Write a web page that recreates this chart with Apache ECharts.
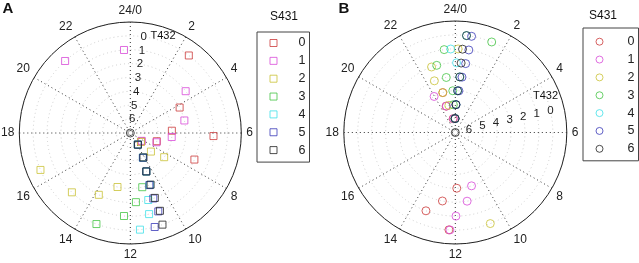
<!DOCTYPE html>
<html><head><meta charset="utf-8">
<script src="https://cdn.jsdelivr.net/npm/echarts@6/dist/echarts.min.js"></script>
<style>html,body{margin:0;padding:0;background:#fff}#c{width:639px;height:263px}</style>
</head><body><div id="c"></div>
<script>
// T432 levels (radius, inverted) and S431 groups (colours)
const T432 = [0, 1, 2, 3, 4, 5, 6];
const S431 = ['0', '1', '2', '3', '4', '5', '6'];
const hourTicks = [0, 2, 4, 6, 8, 10, 12, 14, 16, 18, 20, 22];
const radialTicks = [0, 1, 2, 3, 4, 5, 6];
// Panel A: hour of each point for T432 = 0..6, per S431 group
const A_S0 = [2.47, 6.14, 7.5, 4.18, 5.79, 7.15, 8.5];
const A_S1 = [21.19, 23.71, 3.53, 5.13, 6.37, 7.3, 8.3];
const A_S2 = [16.51, 14.97, 13.8, 12.89, 8.37, 8.8, 8.65];
const A_S3 = [13.36, 12.29, 11.69, 11.17, 10.5, 10.19, 9.8];
const A_S4 = [11.62, 11.13, 11.0, 10.62, 10.5, 10.2, 9.8];
const A_S5 = [11.03, 10.69, 10.71, 10.66, 10.49, 10.2, 9.8];
const A_S6 = [10.71, 10.61, 10.62, 10.57, 10.49, 10.11, 9.8];
// Panel B
const B_S0 = [12.25, 13.37, 12.71, 11.9, 22.84, 22.72, 23.4];
const B_S1 = [12.21, 11.97, 11.35, 10.87, 21.97, 22.76, 23.5];
const B_S2 = [10.6, 0.13, 22.67, 22.53, 22.84, 23.11, 23.9];
const B_S3 = [1.46, 23.49, 22.97, 23.38, 23.77, 23.74, 23.9];
const B_S4 = [0.44, 23.79, 0.07, 0.31, 0.21, 0.09, 23.95];
const B_S5 = [0.64, 0.62, 0.57, 0.46, 0.33, 0.09, 23.95];
const B_S6 = [0.44, 0.33, 0.32, 0.31, 0.21, 0.09, 23.95];
const originMark = [[7, 0]];

const colors = ['#cc3b3b', '#d84ad8', '#c9c236', '#45c445', '#3ee0e8', '#3a3ab8', '#222222'];
const FONT = '"Liberation Sans", Arial, sans-serif';
const A_sets = [A_S0, A_S1, A_S2, A_S3, A_S4, A_S5, A_S6];
const B_sets = [B_S0, B_S1, B_S2, B_S3, B_S4, B_S5, B_S6];

function mainAngle(pi) {
  return {
    polarIndex: pi, type: 'value', min: 0, max: 24, interval: 2, startAngle: 90, clockwise: true,
    axisLine: {show: true, lineStyle: {color: '#222', width: 1}},
    axisTick: {show: false},
    axisLabel: {show: true, margin: 5, color: '#222', fontSize: 12, fontFamily: FONT,
      formatter: v => v === 0 ? '24/0' : (v === 24 ? '' : String(v))},
    splitLine: {show: true, lineStyle: {color: '#333', type: [1, 3], width: 1}}
  };
}
function mainRadius(pi) {
  return {
    polarIndex: pi, type: 'value', min: -1, max: 7, interval: 1, inverse: true,
    axisLine: {show: false}, axisTick: {show: false}, axisLabel: {show: false},
    splitLine: {show: true, lineStyle: {color: '#cccccc', type: [1, 3], width: 1}}
  };
}
function labelAngle(pi, sa) {
  return {polarIndex: pi, type: 'value', min: 0, max: 24, startAngle: sa, clockwise: true,
    axisLine: {show: false}, axisTick: {show: false}, axisLabel: {show: false}, splitLine: {show: false}};
}
function labelRadius(pi) {
  return {
    polarIndex: pi, type: 'value', min: -1, max: 7, interval: 1, inverse: true,
    axisLine: {show: false}, axisTick: {show: false}, splitLine: {show: false},
    axisLabel: {show: true, margin: 0, color: '#222', fontSize: 11.5, fontFamily: FONT,
      align: 'center', verticalAlign: 'middle',
      formatter: v => radialTicks.indexOf(v) >= 0 ? String(v) : ''}
  };
}
const series = [];
function addSeries(prefix, sets, pi, symbol, size) {
  sets.forEach((hrs, i) => {
    series.push({
      name: prefix + S431[i], type: 'scatter', coordinateSystem: 'polar', polarIndex: pi,
      symbol: symbol, symbolSize: size,
      itemStyle: {color: 'rgba(0,0,0,0)', borderColor: colors[i], borderWidth: 1},
      data: T432.map((t, k) => [t, hrs[k]]), z: 3 + i
    });
  });
  series.push({type: 'scatter', coordinateSystem: 'polar', polarIndex: pi, symbol: 'circle', symbolSize: 8,
    itemStyle: {color: 'rgba(0,0,0,0)', borderColor: '#222', borderWidth: 1}, data: originMark, z: 2});
}
addSeries('A', A_sets, 0, 'rect', 7);
addSeries('B', B_sets, 2, 'circle', 8);

function legend(prefix, left, top, pad, textW, icon) {
  return {
    left: left, top: top, orient: 'vertical', padding: pad, itemWidth: 7, itemHeight: 7, itemGap: 3.85,
    borderColor: '#444', borderWidth: 1, selectedMode: false,
    textStyle: {fontFamily: FONT, fontSize: 12, color: '#222', lineHeight: 14,
      rich: {n: {width: textW, align: 'right', fontSize: 12.5, fontFamily: FONT, color: '#222', lineHeight: 14}}},
    formatter: name => '{n|' + name.slice(1) + '}',
    data: S431.map((s, i) => ({name: prefix + s, icon: icon,
      itemStyle: {color: 'rgba(0,0,0,0)', borderColor: colors[i], borderWidth: 1}}))
  };
}
function txt(x, y, t, size, bold) {
  return {type: 'text', x: x, y: y, style: {text: t, fill: '#111', font: (bold ? 'bold ' : '') + size + 'px ' + FONT,
    textAlign: 'center', textVerticalAlign: 'middle'}};
}
const option = {
  animation: false,
  polar: [
    {center: [130.3, 133], radius: 111},
    {center: [130.3, 133], radius: 111},
    {center: [455.3, 132.5], radius: 111.5},
    {center: [455.3, 132.5], radius: 111.5}
  ],
  angleAxis: [mainAngle(0), labelAngle(1, 82), mainAngle(2), labelAngle(3, 13)],
  radiusAxis: [mainRadius(0), labelRadius(1), mainRadius(2), labelRadius(3)],
  legend: [legend('A', 257, 32, [4, 4, 5, 12.5], 23.5, 'rect'), legend('B', 583, 28, [6.7, 4, 5, 12.5], 26.5, 'circle')],
  graphic: [txt(8, 9, 'A', 15, true), txt(344, 9, 'B', 15, true), txt(284, 17, 'S431', 12), txt(603, 16, 'S431', 12),
    txt(163, 36, 'T432', 11), txt(545.5, 96, 'T432', 11)],
  series: series
};
const chart = echarts.init(document.getElementById('c'), null, {renderer: 'canvas'});
chart.setOption(option);
</script></body></html>
